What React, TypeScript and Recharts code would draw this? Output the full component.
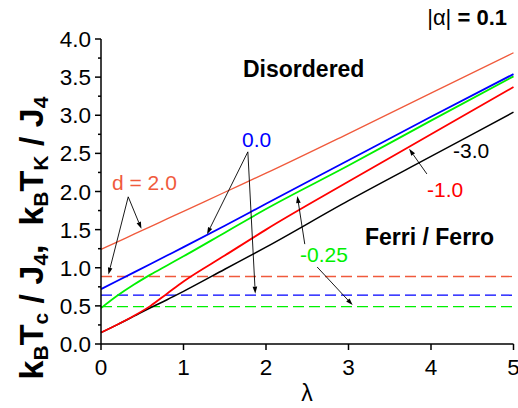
import React from "react";
import { LineChart, Line, XAxis, YAxis, ReferenceLine } from "recharts";

// critical temperature vs lambda for several values of d (|alpha| = 0.1)
const lambda = [0, 0.2, 0.4, 0.6, 0.8, 1, 1.5, 2, 3, 4, 5];
const tcD20 = [1.24, 1.34, 1.44, 1.54, 1.64, 1.74, 1.99, 2.24, 2.76, 3.29, 3.82];
const tcD00 = [0.72, 0.83, 0.94, 1.05, 1.16, 1.27, 1.55, 1.84, 2.41, 2.98, 3.54];
const tcDm025 = [0.47, 0.635, 0.78, 0.91, 1.03, 1.15, 1.46, 1.77, 2.34, 2.93, 3.51];
const tcDm10 = [0.15, 0.255, 0.37, 0.5, 0.66, 0.82, 1.16, 1.5, 2.13, 2.75, 3.37];
const tcDm30 = [0.15, 0.255, 0.365, 0.475, 0.58, 0.69, 0.98, 1.27, 1.88, 2.46, 3.04];

// lambda-independent T_K levels (dashed)
const tkD20 = 0.885;
const tkD00 = 0.64;
const tkDm025 = 0.49;

const xTicks = [0, 1, 2, 3, 4, 5];
const yTicks = [0, 0.25, 0.5, 0.75, 1, 1.25, 1.5, 1.75, 2, 2.25, 2.5, 2.75, 3, 3.25, 3.5, 3.75, 4];

// arrows from the d labels to their curves, in data units: [tail, tip]
const pointers = [
  [{ x: 0.33, y: 1.93 }, { x: 0.09, y: 0.91 }],
  [{ x: 0.33, y: 1.93 }, { x: 0.49, y: 1.51 }],
  [{ x: 1.78, y: 2.52 }, { x: 1.285, y: 1.44 }],
  [{ x: 1.78, y: 2.52 }, { x: 1.87, y: 0.66 }],
  [{ x: 3.95, y: 2.23 }, { x: 3.735, y: 2.56 }],
  [{ x: 2.47, y: 1.31 }, { x: 2.38, y: 1.94 }],
  [{ x: 2.62, y: 1.01 }, { x: 3.05, y: 0.51 }],
];

const rows = lambda.map((lam, i) => ({
  lam,
  d20: tcD20[i],
  d00: tcD00[i],
  dm025: tcDm025[i],
  dm10: tcDm10[i],
  dm30: tcDm30[i],
}));

const FONT = "'Liberation Sans', Arial, sans-serif";
const ORANGE = "#f05a3c";
const BLUE = "#0000ff";
const GREEN = "#00f000";
const RED = "#ff0000";

const isMajor = (v: number) => Math.abs(v * 2 - Math.round(v * 2)) < 1e-6;

function LeftTick({ x, y, payload }: any) {
  const v = payload.value;
  const major = isMajor(v);
  return (
    <g>
      <line x1={x} x2={x - (major ? 6 : 3)} y1={y} y2={y} stroke="#000" strokeWidth={1.5} />
      {major && (
        <text x={x - 10} y={y} dy="0.36em" textAnchor="end" fontSize={22.5} fontFamily={FONT} fill="#000">
          {v.toFixed(1)}
        </text>
      )}
    </g>
  );
}

function RightTick({ x, y, payload }: any) {
  const major = isMajor(payload.value);
  return <line x1={x} x2={x - (major ? 6 : 3)} y1={y} y2={y} stroke="#000" strokeWidth={1.5} />;
}

function BottomTick({ x, y, payload }: any) {
  return (
    <g>
      <line x1={x} x2={x} y1={y} y2={y + 6} stroke="#000" strokeWidth={1.5} />
      <text x={x} y={y + 31} textAnchor="middle" fontSize={22.5} fontFamily={FONT} fill="#000">
        {payload.value}
      </text>
    </g>
  );
}

function TopTick({ x, y, payload }: any) {
  if (payload.value === 0 || payload.value === 5) return <g />;
  return <line x1={x} x2={x} y1={y} y2={y + 6} stroke="#000" strokeWidth={1.5} />;
}

function Pointer({ x1, y1, x2, y2 }: any) {
  const dx = x2 - x1;
  const dy = y2 - y1;
  const len = Math.hypot(dx, dy) || 1;
  const ux = dx / len;
  const uy = dy / len;
  const hl = 7;
  const hw = 2.3;
  const bx = x2 - ux * hl;
  const by = y2 - uy * hl;
  return (
    <g>
      <line x1={x1} y1={y1} x2={bx} y2={by} stroke="#000" strokeWidth={0.9} />
      <polygon
        points={`${x2},${y2} ${bx - uy * hw},${by + ux * hw} ${bx + uy * hw},${by - ux * hw}`}
        fill="#000"
      />
    </g>
  );
}

const label = { fontFamily: FONT, fontSize: 21 };

export default function App() {
  return (
    <div style={{ width: 518, height: 408, fontFamily: FONT, background: "#fff" }}>
      <style>{"body{margin:0}"}</style>
      <LineChart width={518} height={408} data={rows} margin={{ top: 39, right: 4.5, bottom: 0, left: 0 }}>
        <XAxis
          dataKey="lam"
          type="number"
          domain={[0, 5]}
          ticks={xTicks}
          interval={0}
          height={64}
          tickSize={0}
          tickMargin={0}
          tickLine={false}
          tick={<BottomTick />}
          axisLine={{ stroke: "#000", strokeWidth: 1.5 }}
        />
        <XAxis
          xAxisId="top"
          orientation="top"
          type="number"
          domain={[0, 5]}
          ticks={xTicks}
          interval={0}
          height={0}
          tickSize={0}
          tickMargin={0}
          tickLine={false}
          tick={<TopTick />}
          axisLine={{ stroke: "#000", strokeWidth: 1.5 }}
        />
        <YAxis
          type="number"
          domain={[0, 4]}
          ticks={yTicks}
          interval={0}
          width={101}
          tickSize={0}
          tickMargin={0}
          tickLine={false}
          tick={<LeftTick />}
          axisLine={{ stroke: "#000", strokeWidth: 1.5 }}
        />
        <YAxis
          yAxisId="right"
          orientation="right"
          type="number"
          domain={[0, 4]}
          ticks={yTicks}
          interval={0}
          width={0}
          tickSize={0}
          tickMargin={0}
          tickLine={false}
          tick={<RightTick />}
          axisLine={{ stroke: "#000", strokeWidth: 1.5 }}
        />

        <ReferenceLine y={tkD20} stroke={ORANGE} strokeWidth={1.3} strokeDasharray="11 5" />
        <ReferenceLine y={tkD00} stroke={BLUE} strokeWidth={1.3} strokeDasharray="11 5" />
        <ReferenceLine y={tkDm025} stroke={GREEN} strokeWidth={1.3} strokeDasharray="11 5" />

        <Line dataKey="dm30" type="monotone" stroke="#000" strokeWidth={1.5} dot={false} isAnimationActive={false} />
        <Line dataKey="dm10" type="monotone" stroke={RED} strokeWidth={1.8} dot={false} isAnimationActive={false} />
        <Line dataKey="dm025" type="monotone" stroke={GREEN} strokeWidth={1.8} dot={false} isAnimationActive={false} />
        <Line dataKey="d00" type="monotone" stroke={BLUE} strokeWidth={1.8} dot={false} isAnimationActive={false} />
        <Line dataKey="d20" type="monotone" stroke={ORANGE} strokeWidth={1.3} dot={false} isAnimationActive={false} />

        {pointers.map((seg, i) => (
          <ReferenceLine key={i} segment={seg} shape={<Pointer />} />
        ))}

        <text x={112} y={190} fill={ORANGE} {...label}>d = 2.0</text>
        <text x={242} y={147} fill={BLUE} {...label}>0.0</text>
        <text x={453} y={158} fill="#000" {...label}>-3.0</text>
        <text x={427} y={197} fill={RED} {...label}>-1.0</text>
        <text x={300} y={262} fill={GREEN} {...label}>-0.25</text>
        <text x={243} y={77} fontFamily={FONT} fontSize={23} fontWeight="bold" fill="#000">Disordered</text>
        <text x={365} y={245} fontFamily={FONT} fontSize={23} fontWeight="bold" fill="#000">Ferri / Ferro</text>
        <text x={507} y={25} textAnchor="end" fontFamily={FONT} fontSize={22} fill="#000">
          |α|<tspan fontWeight="bold"> = 0.1</tspan>
        </text>
        <text x={307} y={401} textAnchor="middle" fontFamily={FONT} fontSize={23} fill="#000">λ</text>
        <text
          transform="translate(43,238) rotate(-90)"
          textAnchor="middle"
          fontFamily={FONT}
          fontSize={34}
          fontWeight="bold"
          fill="#000"
        >
          k<tspan fontSize={21} dy={5}>B</tspan>
          <tspan dy={-5}>T</tspan>
          <tspan fontSize={21} dy={5}>c</tspan>
          <tspan dy={-5}>{" / J"}</tspan>
          <tspan fontSize={21} dy={5}>4</tspan>
          <tspan dy={-5}>{",\u00a0\u00a0k"}</tspan>
          <tspan fontSize={21} dy={5}>B</tspan>
          <tspan dy={-5}>T</tspan>
          <tspan fontSize={21} dy={5}>K</tspan>
          <tspan dy={-5}>{" / J"}</tspan>
          <tspan fontSize={21} dy={5}>4</tspan>
        </text>
      </LineChart>
    </div>
  );
}
